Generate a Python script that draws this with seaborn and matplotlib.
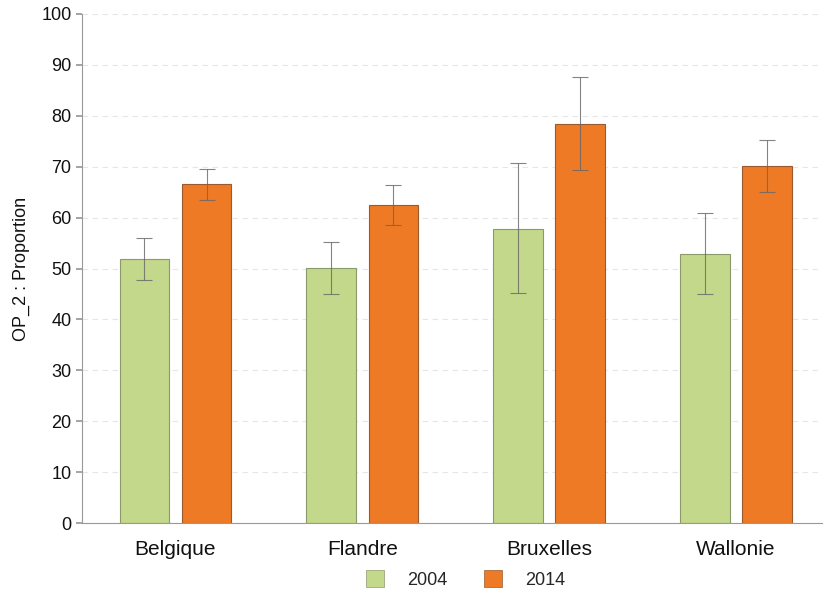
import matplotlib
matplotlib.use("Agg")
import matplotlib.pyplot as plt
import matplotlib.patches as mpatches
import numpy as np
import pandas as pd
import seaborn as sns

# Data
REGIONS = ["Belgique", "Flandre", "Bruxelles", "Wallonie"]
YEARS = ["2004", "2014"]
VALUES_2004 = [51.9, 50.1, 57.8, 52.8]
VALUES_2014 = [66.6, 62.5, 78.4, 70.1]
LOW_2004 = [47.7, 45.0, 45.2, 45.0]
HIGH_2004 = [56.0, 55.2, 70.7, 60.9]
LOW_2014 = [63.5, 58.5, 69.4, 65.0]
HIGH_2014 = [69.5, 66.4, 87.6, 75.2]

GREEN = "#c3d88a"
ORANGE = "#ee7a26"
GREEN_EDGE = "#8a9a6a"
ORANGE_EDGE = "#9a5a30"
GREY = "#999999"

sns.set_theme(style="white")
plt.rcParams["font.family"] = ["Liberation Sans", "DejaVu Sans"]

df = pd.DataFrame(
    {
        "Region": REGIONS * 2,
        "Year": [YEARS[0]] * 4 + [YEARS[1]] * 4,
        "Value": VALUES_2004 + VALUES_2014,
        "Low": LOW_2004 + LOW_2014,
        "High": HIGH_2004 + HIGH_2014,
    }
)

fig = plt.figure(figsize=(8.24, 5.93), dpi=100)
ax = fig.add_axes([82 / 824, 70 / 593, 740 / 824, 509 / 593])

sns.barplot(
    data=df, x="Region", y="Value", hue="Year", order=REGIONS, hue_order=YEARS,
    palette=[GREEN, ORANGE], saturation=1, errorbar=None, width=0.665, gap=0.2,
    legend=False, ax=ax,
)

# Edge colours and error bars, placed on the bars seaborn drew
for container, year, edge in zip(ax.containers, YEARS, [GREEN_EDGE, ORANGE_EDGE]):
    sub = df[df["Year"] == year].set_index("Region").loc[REGIONS]
    xs = []
    for bar in container:
        bar.set_edgecolor(edge)
        bar.set_linewidth(0.8)
        xs.append(bar.get_x() + bar.get_width() / 2)
    yerr = np.vstack([sub["Value"] - sub["Low"], sub["High"] - sub["Value"]])
    ax.errorbar(xs, sub["Value"], yerr=yerr, fmt="none", ecolor="#666666",
                elinewidth=0.8, capsize=5.5, capthick=0.8, alpha=0.8, zorder=5)

ax.set_ylim(0, 100)
ax.set_xlim(-0.5, 3.46)
ax.set_yticks(range(0, 101, 10))
ax.yaxis.grid(True, linestyle=(0, (5, 4)), color="#e6e6e6", linewidth=0.8)
ax.set_axisbelow(True)

ax.set_xlabel("")
ax.set_ylabel("OP_2 : Proportion", fontsize=13, color="#111111", labelpad=8)
ax.tick_params(axis="y", labelsize=13, length=4, color=GREY, labelcolor="#111111", left=True)
ax.tick_params(axis="x", labelsize=15, length=0, pad=12, labelcolor="#111111")

for side in ["top", "right"]:
    ax.spines[side].set_visible(False)
for side in ["left", "bottom"]:
    ax.spines[side].set_color(GREY)
    ax.spines[side].set_linewidth(0.8)

handles = [
    mpatches.Patch(facecolor=GREEN, edgecolor=GREEN_EDGE, linewidth=0.5, label=YEARS[0]),
    mpatches.Patch(facecolor=ORANGE, edgecolor=ORANGE_EDGE, linewidth=0.5, label=YEARS[1]),
]
fig.legend(handles=handles, loc="lower center", bbox_to_anchor=(0.565, -0.02), ncol=2,
           frameon=False, fontsize=13, handlelength=1.0, handleheight=1.0,
           handletextpad=1.3, columnspacing=2.0)

fig.savefig("out.png", dpi=100, facecolor="white")
